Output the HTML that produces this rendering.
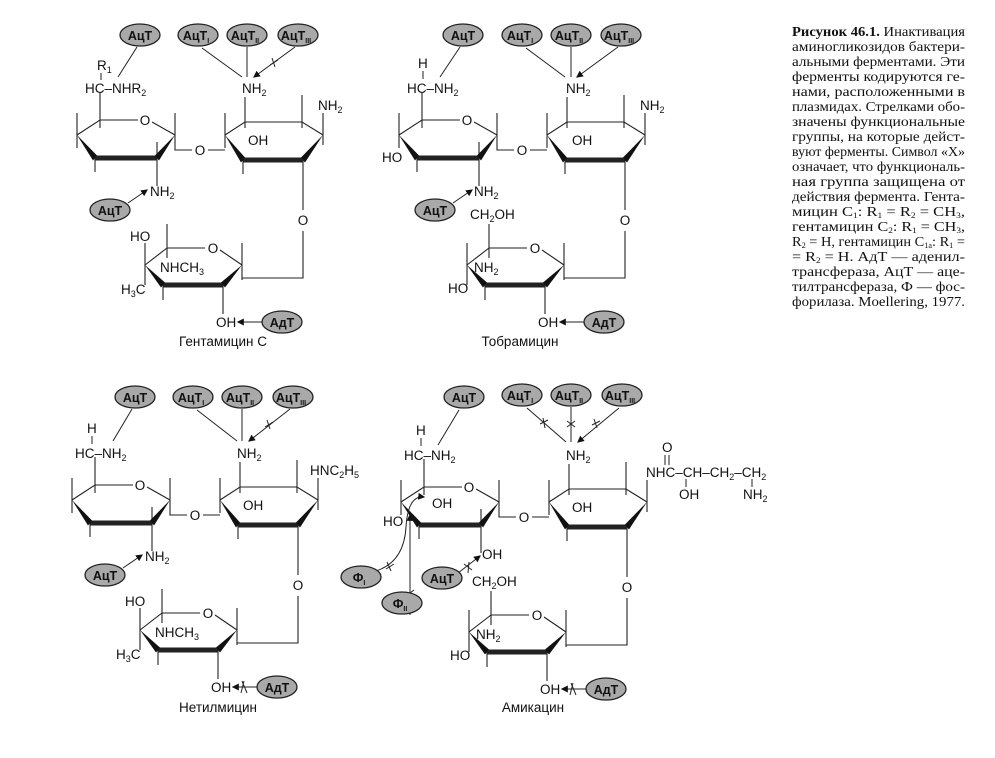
<!DOCTYPE html>
<html><head><meta charset="utf-8"><style>
html,body{margin:0;padding:0;background:#fff}
svg{display:block}
text{font-family:"Liberation Sans",sans-serif;font-size:13.5px;fill:#111}
.e{fill:#a9a9a9;stroke:#222;stroke-width:1.3}
.et{font-weight:bold;font-size:12.5px;text-anchor:middle}
.m{text-anchor:middle}
.cap{font-family:"Liberation Serif",serif;font-size:14px}
.ln{stroke:#222;stroke-width:1;fill:none}
</style></head><body>
<svg width="995" height="758" viewBox="0 0 995 758" xmlns="http://www.w3.org/2000/svg">
<defs>
<marker id="a" viewBox="0 0 6 6" refX="5" refY="3" markerWidth="7" markerHeight="7" markerUnits="userSpaceOnUse" orient="auto"><path d="M0,0L6,3L0,6z" fill="#111"/></marker>
<g id="sk">
 <g stroke="#222" stroke-width="1.1" fill="none">
  <path d="M77,135 L100,120 L138,120 M152,122 L175,135"/>
  <path d="M77,113 V148 M100,92 V128 M175,113 V150 H192 M95,158 V172 M157,142 V186"/>
  <path d="M208,150 H225 M225,113 V148 M225,135 L245,122 L302,122 L323,135"/>
  <path d="M245,97 V128 M302,95 V128 M323,113 V145 M243,160 V174 M303,160 V210 M303,231 V278 H242"/>
  <path d="M145,265 L167,248 L205,248 M220,250 L242,265"/>
  <path d="M145,243 V285 M167,224 V258 M242,243 V280 M163,285 V300 M223,285 V314"/>
  <path d="M95,158 H157 M243,160 H303 M163,285 H223" stroke-width="5"/>
 </g>
 <g fill="#111">
  <polygon points="77,135 93,160.5 97,155.5"/><polygon points="175,135 155,155.5 159,160.5"/>
  <polygon points="225,135 241,162.5 245,157.5"/><polygon points="323,135 301,157.5 305,162.5"/>
  <polygon points="145,265 161,287.5 165,282.5"/><polygon points="242,265 221,282.5 225,287.5"/>
 </g>
</g>
</defs>

<!-- ===== Gentamicin ===== -->
<g>
<use href="#sk"/>
<text x="145" y="125" class="m">O</text><text x="200" y="155" class="m">O</text>
<text x="303" y="225" class="m">O</text><text x="213" y="253" class="m">O</text>
<ellipse class="e" cx="140" cy="35" rx="20" ry="11"/><text class="et" x="140" y="40">АцТ</text>
<ellipse class="e" cx="198" cy="35" rx="20" ry="11"/><text class="et" x="196" y="40">АцТ<tspan font-size="7" dy="3">I</tspan></text>
<ellipse class="e" cx="247" cy="35" rx="20" ry="11"/><text class="et" x="245" y="40">АцТ<tspan font-size="7" dy="3">II</tspan></text>
<ellipse class="e" cx="298" cy="35" rx="20" ry="11"/><text class="et" x="296" y="40">АцТ<tspan font-size="7" dy="3">III</tspan></text>
<path class="ln" d="M137,47 L118,77 M202,48 L242,77 M247,47 V77 M295,47 L254,77" marker-end="url(#a)"/>
<path class="ln" d="M270,65 l8,-5 M272,58 l3,9"/>
<text x="97" y="70">R<tspan font-size="9" dy="3">1</tspan></text>
<path class="ln" d="M101,73 V80"/>
<text x="85" y="93">HC–NHR<tspan font-size="9" dy="3">2</tspan></text>
<text x="242" y="93">NH<tspan font-size="9" dy="3">2</tspan></text>
<text x="248" y="145">OH</text>
<text x="318" y="110">NH<tspan font-size="9" dy="3">2</tspan></text>
<text x="150" y="196">NH<tspan font-size="9" dy="3">2</tspan></text>
<ellipse class="e" cx="110" cy="210" rx="20" ry="11"/><text class="et" x="110" y="215">АцТ</text>
<path class="ln" d="M128,203 L147,190" marker-end="url(#a)"/>
<text x="130" y="241">HO</text><text x="160" y="272">NHCH<tspan font-size="9" dy="3">3</tspan></text>
<text x="121" y="294">H<tspan font-size="9" dy="3">3</tspan><tspan dy="-3">C</tspan></text>
<text x="216" y="327">OH</text>
<path class="ln" d="M262,322 H238" marker-end="url(#a)"/>
<ellipse class="e" cx="282" cy="322" rx="20" ry="11"/><text class="et" x="282" y="327">АдТ</text>
<text x="223" y="346" class="m" font-size="12.5">Гентамицин С</text>
</g>

<!-- ===== Tobramycin ===== -->
<g transform="translate(322,0)">
<use href="#sk"/>
<text x="145" y="125" class="m">O</text><text x="200" y="155" class="m">O</text>
<text x="303" y="225" class="m">O</text><text x="213" y="253" class="m">O</text>
<ellipse class="e" cx="141" cy="35" rx="20" ry="11"/><text class="et" x="141" y="40">АцТ</text>
<ellipse class="e" cx="200" cy="35" rx="20" ry="11"/><text class="et" x="198" y="40">АцТ<tspan font-size="7" dy="3">I</tspan></text>
<ellipse class="e" cx="249" cy="35" rx="20" ry="11"/><text class="et" x="247" y="40">АцТ<tspan font-size="7" dy="3">II</tspan></text>
<ellipse class="e" cx="299" cy="35" rx="20" ry="11"/><text class="et" x="297" y="40">АцТ<tspan font-size="7" dy="3">III</tspan></text>
<path class="ln" d="M138,47 L118,77 M204,48 L243,77 M249,47 V77 M296,47 L255,77" marker-end="url(#a)"/>
<text x="96" y="68">H</text><path class="ln" d="M101,71 V79"/>
<text x="85" y="93">HC–NH<tspan font-size="9" dy="3">2</tspan></text>
<text x="244" y="93">NH<tspan font-size="9" dy="3">2</tspan></text>
<text x="250" y="145">OH</text>
<text x="318" y="110">NH<tspan font-size="9" dy="3">2</tspan></text>
<text x="60" y="162">HO</text>
<text x="152" y="196">NH<tspan font-size="9" dy="3">2</tspan></text>
<ellipse class="e" cx="113" cy="210" rx="20" ry="11"/><text class="et" x="113" y="215">АцТ</text>
<path class="ln" d="M131,203 L150,190" marker-end="url(#a)"/>
<text x="148" y="219">CH<tspan font-size="9" dy="3">2</tspan><tspan dy="-3">OH</tspan></text>
<text x="152" y="272">NH<tspan font-size="9" dy="3">2</tspan></text>
<text x="126" y="293">HO</text>
<text x="216" y="327">OH</text>
<path class="ln" d="M262,322 H238" marker-end="url(#a)"/>
<ellipse class="e" cx="282" cy="322" rx="20" ry="11"/><text class="et" x="282" y="327">АдТ</text>
<text x="198" y="346" class="m" font-size="12.5">Тобрамицин</text>
</g>

<!-- ===== Netilmicin ===== -->
<g transform="translate(-5,365)">
<use href="#sk"/>
<text x="145" y="125" class="m">O</text><text x="200" y="155" class="m">O</text>
<text x="303" y="225" class="m">O</text><text x="213" y="253" class="m">O</text>
<ellipse class="e" cx="140" cy="32" rx="20" ry="11"/><text class="et" x="140" y="37">АцТ</text>
<ellipse class="e" cx="198" cy="32" rx="20" ry="11"/><text class="et" x="196" y="37">АцТ<tspan font-size="7" dy="3">I</tspan></text>
<ellipse class="e" cx="247" cy="32" rx="20" ry="11"/><text class="et" x="245" y="37">АцТ<tspan font-size="7" dy="3">II</tspan></text>
<ellipse class="e" cx="298" cy="32" rx="20" ry="11"/><text class="et" x="296" y="37">АцТ<tspan font-size="7" dy="3">III</tspan></text>
<path class="ln" d="M137,44 L118,76 M202,45 L242,76 M247,44 V76 M295,44 L254,76" marker-end="url(#a)"/>
<path class="ln" d="M270,62 l8,-5 M272,55 l3,9"/>
<text x="92" y="68">H</text><path class="ln" d="M97,71 V79"/>
<text x="80" y="93">HC–NH<tspan font-size="9" dy="3">2</tspan></text>
<text x="242" y="93">NH<tspan font-size="9" dy="3">2</tspan></text>
<text x="248" y="145">OH</text>
<text x="315" y="110">HNC<tspan font-size="9" dy="3">2</tspan><tspan dy="-3">H</tspan><tspan font-size="9" dy="3">5</tspan></text>
<text x="150" y="196">NH<tspan font-size="9" dy="3">2</tspan></text>
<ellipse class="e" cx="110" cy="210" rx="20" ry="11"/><text class="et" x="110" y="215">АцТ</text>
<path class="ln" d="M128,203 L147,190" marker-end="url(#a)"/>
<text x="130" y="241">HO</text><text x="160" y="272">NHCH<tspan font-size="9" dy="3">3</tspan></text>
<text x="121" y="294">H<tspan font-size="9" dy="3">3</tspan><tspan dy="-3">C</tspan></text>
<text x="216" y="327">OH</text>
<path class="ln" d="M262,322 H238" marker-end="url(#a)"/>
<path class="ln" d="M247,316 l5,12 M249,316 l-3,12"/>
<ellipse class="e" cx="282" cy="322" rx="20" ry="11"/><text class="et" x="282" y="327">АдТ</text>
<text x="223" y="347" class="m" font-size="12.5">Нетилмицин</text>
</g>

<!-- ===== Amikacin ===== -->
<g transform="translate(324,367)">
<use href="#sk"/>
<text x="145" y="125" class="m">O</text><text x="200" y="155" class="m">O</text>
<text x="303" y="225" class="m">O</text><text x="213" y="253" class="m">O</text>
<ellipse class="e" cx="140" cy="30" rx="20" ry="11"/><text class="et" x="140" y="35">АцТ</text>
<ellipse class="e" cx="198" cy="28" rx="20" ry="11"/><text class="et" x="196" y="33">АцТ<tspan font-size="7" dy="3">I</tspan></text>
<ellipse class="e" cx="247" cy="28" rx="20" ry="11"/><text class="et" x="245" y="33">АцТ<tspan font-size="7" dy="3">II</tspan></text>
<ellipse class="e" cx="298" cy="28" rx="20" ry="11"/><text class="et" x="296" y="33">АцТ<tspan font-size="7" dy="3">III</tspan></text>
<path class="ln" d="M135,43 L114,78 M203,41 L242,75 M247,40 V75 M295,41 L254,75" marker-end="url(#a)"/>
<path class="ln" d="M216,57 l8,-4 M219,51 l2,10 M243,54 l8,6 M251,54 l-8,6 M268,58 l8,-4 M270,52 l3,9"/>
<text x="92" y="68">H</text><path class="ln" d="M97,71 V79"/>
<text x="80" y="93">HC–NH<tspan font-size="9" dy="3">2</tspan></text>
<text x="242" y="93">NH<tspan font-size="9" dy="3">2</tspan></text>
<text x="248" y="145">OH</text>
<text x="108" y="141">OH</text>
<text x="59" y="159">HO</text>
<path class="ln" d="M86,248 V148" marker-end="url(#a)"/>
<path class="ln" d="M82,225 l8,4 M90,223 l-8,6"/>
<path class="ln" d="M52,204 Q80,195 82,160 Q84,128 100,130" marker-end="url(#a)"/>
<path class="ln" d="M62,202 l8,-5 M63,195 l4,9"/>
<text x="158" y="192">OH</text>
<path class="ln" d="M134,206 L156,189" marker-end="url(#a)"/>
<path class="ln" d="M140,197 l8,6 M145,195 l-1,11"/>
<ellipse class="e" cx="118" cy="211" rx="20" ry="11"/><text class="et" x="118" y="216">АцТ</text>
<ellipse class="e" cx="37" cy="210" rx="20" ry="11"/><text class="et" x="35" y="215">Ф<tspan font-size="7" dy="3">I</tspan></text>
<ellipse class="e" cx="78" cy="236" rx="20" ry="11"/><text class="et" x="76" y="241">Ф<tspan font-size="7" dy="3">II</tspan></text>
<text x="322" y="110">NHC–CH–CH<tspan font-size="9" dy="3">2</tspan><tspan dy="-3">–CH</tspan><tspan font-size="9" dy="3">2</tspan></text>
<text x="338" y="85">O</text>
<path class="ln" d="M341,88 V98 M345,88 V98 M362,112 V120 M428,112 V120"/>
<text x="355" y="132">OH</text>
<text x="419" y="132">NH<tspan font-size="9" dy="3">2</tspan></text>
<text x="148" y="219">CH<tspan font-size="9" dy="3">2</tspan><tspan dy="-3">OH</tspan></text>
<text x="152" y="272">NH<tspan font-size="9" dy="3">2</tspan></text>
<text x="126" y="293">HO</text>
<text x="216" y="327">OH</text>
<path class="ln" d="M262,322 H238" marker-end="url(#a)"/>
<path class="ln" d="M247,316 l5,12 M249,316 l-3,12"/>
<ellipse class="e" cx="282" cy="322" rx="20" ry="11"/><text class="et" x="282" y="327">АдТ</text>
<text x="209" y="345" class="m" font-size="12.5">Амикацин</text>
</g>

<!-- ===== Caption ===== -->
<g>
<text class="cap" x="792" y="36" textLength="173" lengthAdjust="spacingAndGlyphs"><tspan font-weight="bold">Рисунок 46.1.</tspan> Инактивация</text>
<text class="cap" x="792" y="51" textLength="173" lengthAdjust="spacingAndGlyphs">аминогликозидов бактери-</text>
<text class="cap" x="792" y="66" textLength="173" lengthAdjust="spacingAndGlyphs">альными ферментами. Эти</text>
<text class="cap" x="792" y="81" textLength="173" lengthAdjust="spacingAndGlyphs">ферменты кодируются ге-</text>
<text class="cap" x="792" y="96" textLength="173" lengthAdjust="spacingAndGlyphs">нами, расположенными в</text>
<text class="cap" x="792" y="111" textLength="173" lengthAdjust="spacingAndGlyphs">плазмидах. Стрелками обо-</text>
<text class="cap" x="792" y="126" textLength="173" lengthAdjust="spacingAndGlyphs">значены функциональные</text>
<text class="cap" x="792" y="141" textLength="173" lengthAdjust="spacingAndGlyphs">группы, на которые дейст-</text>
<text class="cap" x="792" y="156" textLength="173" lengthAdjust="spacingAndGlyphs">вуют ферменты. Символ «Х»</text>
<text class="cap" x="792" y="171" textLength="173" lengthAdjust="spacingAndGlyphs">означает, что функциональ-</text>
<text class="cap" x="792" y="186" textLength="173" lengthAdjust="spacingAndGlyphs">ная группа защищена от</text>
<text class="cap" x="792" y="201" textLength="173" lengthAdjust="spacingAndGlyphs">действия фермента. Гента-</text>
<text class="cap" x="792" y="216" textLength="173" lengthAdjust="spacingAndGlyphs">мицин C<tspan font-size="8" dy="2">1</tspan><tspan dy="-2">: R</tspan><tspan font-size="8" dy="2">1</tspan><tspan dy="-2"> = R</tspan><tspan font-size="8" dy="2">2</tspan><tspan dy="-2"> = CH</tspan><tspan font-size="8" dy="2">3</tspan><tspan dy="-2">,</tspan></text>
<text class="cap" x="792" y="231" textLength="173" lengthAdjust="spacingAndGlyphs">гентамицин C<tspan font-size="8" dy="2">2</tspan><tspan dy="-2">: R</tspan><tspan font-size="8" dy="2">1</tspan><tspan dy="-2"> = CH</tspan><tspan font-size="8" dy="2">3</tspan><tspan dy="-2">,</tspan></text>
<text class="cap" x="792" y="246" textLength="173" lengthAdjust="spacingAndGlyphs">R<tspan font-size="8" dy="2">2</tspan><tspan dy="-2"> = H, гентамицин C</tspan><tspan font-size="8" dy="2">1a</tspan><tspan dy="-2">: R</tspan><tspan font-size="8" dy="2">1</tspan><tspan dy="-2"> =</tspan></text>
<text class="cap" x="792" y="261" textLength="173" lengthAdjust="spacingAndGlyphs">= R<tspan font-size="8" dy="2">2</tspan><tspan dy="-2"> = H. АдТ — аденил-</tspan></text>
<text class="cap" x="792" y="276" textLength="173" lengthAdjust="spacingAndGlyphs">трансфераза, АцТ — аце-</text>
<text class="cap" x="792" y="291" textLength="173" lengthAdjust="spacingAndGlyphs">тилтрансфераза, Ф — фос-</text>
<text class="cap" x="792" y="306" textLength="173" lengthAdjust="spacingAndGlyphs">форилаза. Moellering, 1977.</text>
</g>
</svg>
</body></html>
